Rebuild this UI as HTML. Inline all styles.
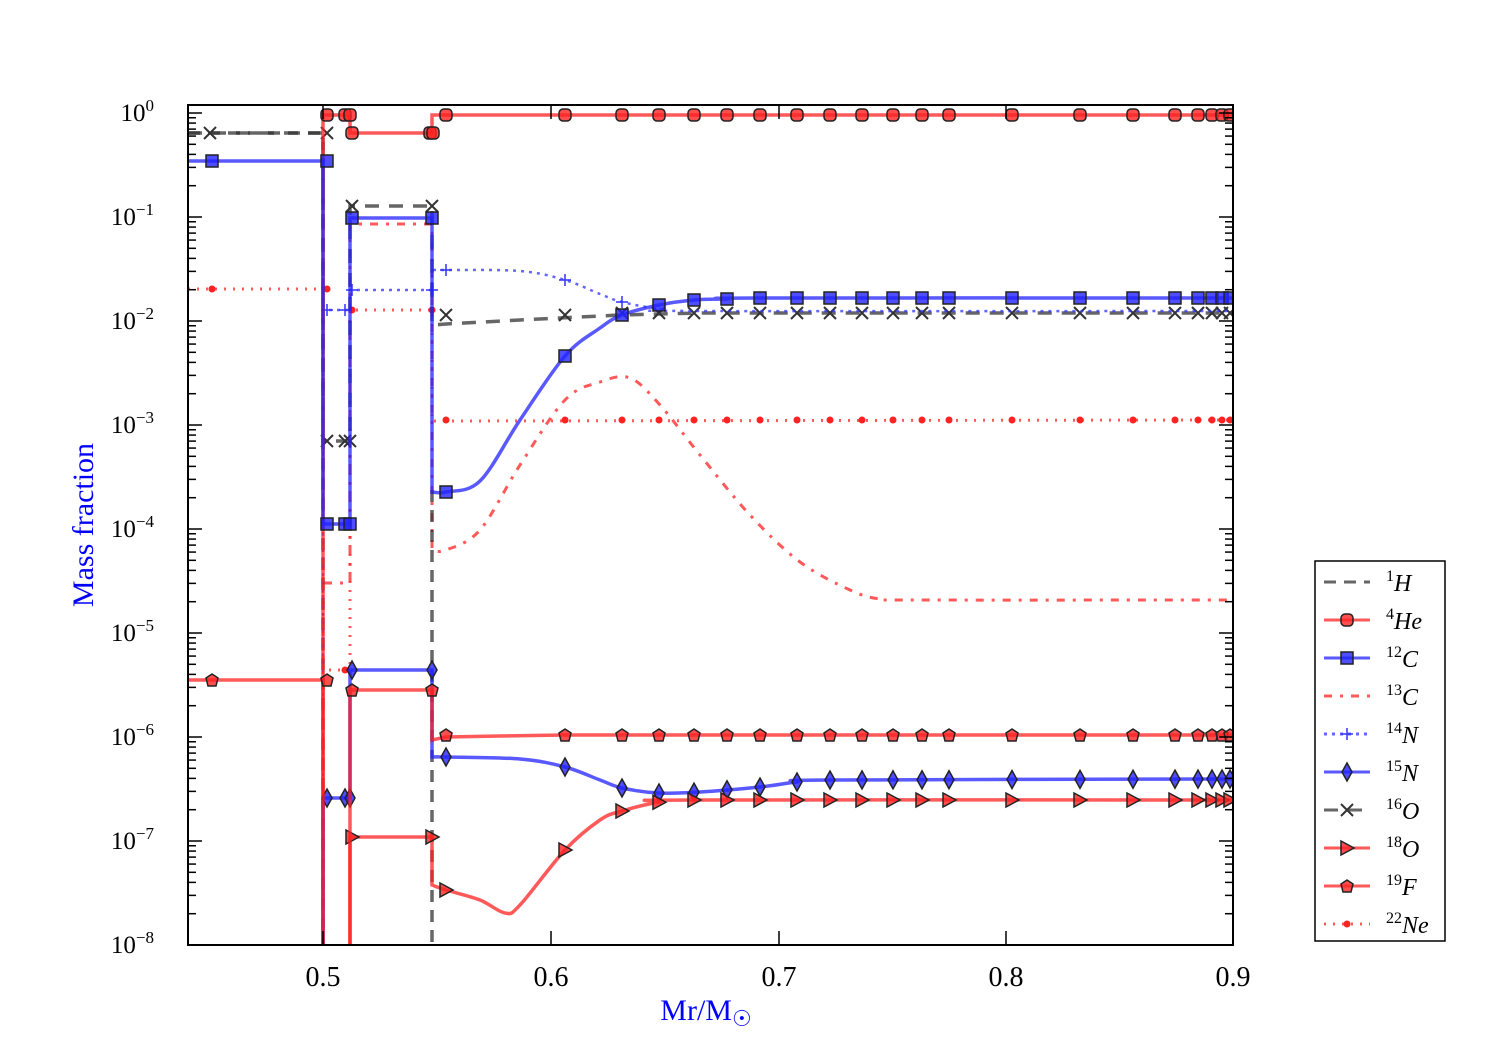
<!DOCTYPE html>
<html><head><meta charset="utf-8"><style>
html,body{margin:0;padding:0;background:#fff}
svg{display:block;font-family:"Liberation Serif",serif}
</style></head><body>
<svg id="s" width="1500" height="1050" xmlns="http://www.w3.org/2000/svg">
<defs><clipPath id="c"><rect x="188" y="105" width="1045" height="840"/></clipPath></defs>
<g id="plot" clip-path="url(#c)"></g>
<rect x="188" y="105" width="1045" height="840" fill="none" stroke="#000" stroke-width="2"/>
<g id="ticks" stroke="#000" stroke-width="1.5"></g>
<g id="lab" font-size="25"></g>
<text x="706" y="1020" font-size="30" fill="#0000ff" text-anchor="middle">Mr/M<tspan font-size="22" dy="6">☉</tspan></text>
<text transform="translate(93,525) rotate(-90)" font-size="30" fill="#0000ff" text-anchor="middle">Mass fraction</text>
<rect x="1315" y="561" width="130" height="380" fill="#fff" stroke="#000" stroke-width="1.5"/>
<g id="leg"></g>
</svg>
<script>
const NS="http://www.w3.org/2000/svg";
const P=document.getElementById('plot'),T=document.getElementById('ticks'),L=document.getElementById('lab'),G=document.getElementById('leg');
function el(p,t,a){const e=document.createElementNS(NS,t);for(const k in a)e.setAttribute(k,a[k]);p.appendChild(e);return e;}
function yl(l){return 113-104*l;}
for(let d=-8;d<=0;d++){const y=yl(d);el(T,'line',{x1:188,y1:y,x2:202,y2:y});el(T,'line',{x1:1233,y1:y,x2:1219,y2:y});
 const t=el(L,'text',{x:154,y:y+8,'text-anchor':'end'});t.innerHTML='10<tspan font-size="17" dy="-10">'+(d<0?'−'+(-d):d)+'</tspan>';
 for(let m=2;m<10;m++){const yy=y-104*Math.log10(m);if(yy<105)continue;el(T,'line',{x1:188,y1:yy,x2:196,y2:yy});el(T,'line',{x1:1233,y1:yy,x2:1225,y2:yy});}}
[[323,'0.5'],[551,'0.6'],[779,'0.7'],[1006,'0.8'],[1233,'0.9']].forEach(([x,s])=>{el(T,'line',{x1:x,y1:945,x2:x,y2:931});el(T,'line',{x1:x,y1:105,x2:x,y2:119});const t=el(L,'text',{x:x,y:986,'text-anchor':'middle','font-size':28});t.textContent=s;});
function mk(g,type,x,y,col){const a={fill:col,stroke:'#222','stroke-width':1.5,'fill-opacity':0.8};
 if(type=='o')el(g,'rect',Object.assign({x:x-6,y:y-6,width:12,height:12,rx:4},a));
 else if(type=='s')el(g,'rect',Object.assign({x:x-6,y:y-6,width:12,height:12},a));
 else if(type=='d')el(g,'polygon',Object.assign({points:`${x},${y-9} ${x+5},${y} ${x},${y+9} ${x-5},${y}`},a));
 else if(type=='t')el(g,'polygon',Object.assign({points:`${x-6},${y-7} ${x+7},${y} ${x-6},${y+7}`},a));
 else if(type=='p')el(g,'polygon',Object.assign({points:`${x},${y-6} ${x+6},${y-2} ${x+4},${y+6} ${x-4},${y+6} ${x-6},${y-2}`},a));
 else if(type=='x'){el(g,'path',{d:`M${x-6} ${y-6}L${x+6} ${y+6}M${x-6} ${y+6}L${x+6} ${y-6}`,stroke:'#333','stroke-width':2});}
 else if(type=='+'){el(g,'path',{d:`M${x-6} ${y}L${x+6} ${y}M${x} ${y-6}L${x} ${y+6}`,stroke:'#33f','stroke-width':1.5});}
 else if(type=='.')el(g,'circle',{cx:x,cy:y,r:3.5,fill:'#f22'});}
const XS=[446,565,622,659,694,727,760,797,830,862,893,922,949,1012,1080,1133,1175,1198,1212,1222,1230];
function curve(pts){return pts.map((p,i)=>(i?'L':'M')+p[0]+' '+p[1]).join('');}
function interp(pts,x){for(let i=1;i<pts.length;i++)if(x<=pts[i][0]){const a=pts[i-1],b=pts[i];return a[1]+(b[1]-a[1])*(x-a[0])/(b[0]-a[0]);}return pts[pts.length-1][1];}
function smooth(pts){let d='M'+pts[0][0]+' '+pts[0][1];for(let i=1;i<pts.length;i++){const p0=pts[Math.max(i-2,0)],p1=pts[i-1],p2=pts[i],p3=pts[Math.min(i+1,pts.length-1)];d+=`C${p1[0]+(p2[0]-p0[0])/6} ${p1[1]+(p2[1]-p0[1])/6} ${p2[0]-(p3[0]-p1[0])/6} ${p2[1]-(p3[1]-p1[1])/6} ${p2[0]} ${p2[1]}`;}return d;}
function series(d,col,dash,w,type,marks){const g=el(P,'g',{});el(g,'path',{d:d,fill:'none',stroke:col,'stroke-width':w||3,'stroke-dasharray':dash||'none','stroke-opacity':0.75});marks.forEach(m=>mk(g,type,m[0],m[1],col));}
const BOT=960;
let c13=[[432,550],[446,550],[480,530],[520,465],[565,400],[600,382],[630,378],[660,405],[700,455],[750,515],[800,562],[850,590],[880,599],[920,600],[1233,600]];
series(`M323 ${BOT}L323 583L350 583L350 224L432 224L432 550`+smooth(c13).replace('M','L'),'#f22','8,8,3,8',3,null,[]);
series(`M188 133L323 133L323 ${BOT}M432 490L432 ${BOT}`,'#333','12,8',3.5,null,[]);
series(`M188 289L323 289L323 670L350 670L350 310L432 310L432 421L1233 420`,'#f22','2,7',3,'.',[[212,289],[327,289],[345,670],[352,310],[432,310]].concat(XS.map(x=>[x,420])));
let o16=[[432,325],[446,324],[520,320],[620,315],[700,313],[1233,313]];
series(`M188 133L323 133L323 441L350 441L350 206L432 206`+curve(o16).replace('M','L'),'#333','14,10',3.5,'x',[[210,133],[327,133],[327,441],[345,441],[350,441],[352,206],[432,206]].concat(XS.map(x=>[x,x<600?315:313])));
let n14=[[432,270],[446,270],[520,271],[565,280],[600,294],[622,302],[660,309],[700,311],[1233,311]];
series(`M323 ${BOT}L323 310L350 310L350 290L432 290L432 270`+smooth(n14).replace('M','L'),'#33f','3,5',2.5,'+',[[327,310],[345,310],[352,290],[432,290],[446,270],[565,280],[622,302]]);
series(`M323 ${BOT}L323 115L350 115L350 133L432 133L432 115L1233 115`,'#f22','',3.5,'o',[[327,115],[345,115],[350,115],[352,133],[430,133],[433,133]].concat(XS.map(x=>[x,115])));
let c12=[[432,492],[446,492],[480,481],[520,420],[565,356],[600,328],[622,315],[659,305],[694,300],[727,299],[760,298],[1233,298]];
series(`M188 161L323 161L323 524L350 524L350 218L432 218L432 492`+smooth(c12).replace('M','L'),'#22f','',3.5,'s',[[212,161],[327,161],[327,524],[345,524],[350,524],[352,218],[432,218]].concat(XS.map(x=>[x,interp(c12,x)])));
let n15=[[432,757],[446,757],[520,759],[565,767],[600,780],[622,788],[659,793],[700,792],[760,787],[797,782],[830,780],[1233,779]];
series(`M323 ${BOT}L323 798L350 798L350 670L432 670L432 757`+smooth(n15).replace('M','L'),'#22f','',3.5,'d',[[327,798],[345,798],[350,798],[352,670],[432,670]].concat(XS.map(x=>[x,interp(n15,x)])));
let o18=[[432,885],[446,890],[480,900],[505,913],[520,905],[565,850],[600,820],[622,811],[660,802],[694,800],[1233,800]];
series(`M350 ${BOT}L350 837L432 837L432 885`+smooth(o18).replace('M','L'),'#f22','',3.5,'t',[[352,837],[432,837]].concat(XS.map(x=>[x,interp(o18,x)])));
let f19=[[432,740],[446,737],[500,736],[565,735],[1233,735]];
series(`M188 680L323 680L323 ${BOT}M350 ${BOT}L350 690L432 690L432 740`+curve(f19).replace('M','L'),'#f22','',3.5,'p',[[212,680],[327,680],[352,690],[432,690]].concat(XS.map(x=>[x,735])));
const LE=[['#333','12,8','','H','1'],['#f22','','o','He','4'],['#22f','','s','C','12'],['#f22','8,8,3,8','','C','13'],['#33f','3,5','+','N','14'],['#22f','','d','N','15'],['#333','14,10','x','O','16'],['#f22','','t','O','18'],['#f22','','p','F','19'],['#f22','2,7','.','Ne','22']];
LE.forEach((e,i)=>{const y=582+i*38;el(G,'line',{x1:1324,y1:y,x2:1370,y2:y,stroke:e[0],'stroke-width':3,'stroke-dasharray':e[1]||'none','stroke-opacity':0.75});if(e[2])mk(G,e[2],1347,y,e[0]);
 const t=el(G,'text',{x:1386,y:y+9,'font-size':24});t.innerHTML='<tspan font-size="16" dy="-10">'+e[4]+'</tspan><tspan font-style="italic" dy="10">'+e[3]+'</tspan>';});
</script>
</body></html>
